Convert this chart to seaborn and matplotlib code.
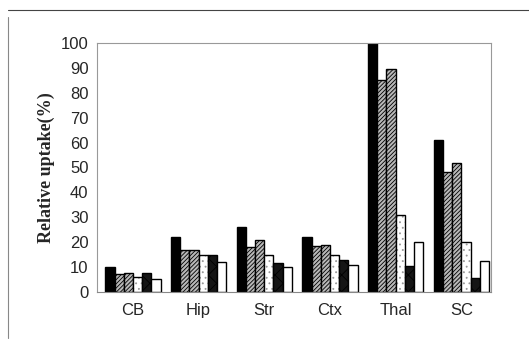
import pandas as pd
import matplotlib
matplotlib.use("Agg")
import matplotlib.pyplot as plt
import seaborn as sns

regions = ["CB", "Hip", "Str", "Ctx", "Thal", "SC"]
series = ["s1", "s2", "s3", "s4", "s5", "s6"]
s1 = [10, 22, 26, 22, 100, 61]
s2 = [7, 17, 18, 18.5, 85, 48]
s3 = [7.5, 17, 21, 19, 89.5, 52]
s4 = [6, 15, 15, 15, 31, 20]
s5 = [7.5, 15, 11.5, 13, 10.5, 5.5]
s6 = [5, 12, 10, 11, 20, 12.5]

rows = []
for name, vals in zip(series, [s1, s2, s3, s4, s5, s6]):
    for r, v in zip(regions, vals):
        rows.append({"region": r, "series": name, "value": v})
df = pd.DataFrame(rows)

sns.set_style("white")
plt.rcParams["hatch.color"] = "#3a3a3a"
plt.rcParams["hatch.linewidth"] = 0.6

fig = plt.figure(figsize=(5.29, 3.45), dpi=100)
ax = fig.add_axes([0.183, 0.154, 0.745, 0.721])

face = ["#000000", "#b8b8b8", "#b8b8b8", "#ffffff", "#151515", "#ffffff"]
hatches = [None, "////////", "////////", "...", "xx", None]

sns.barplot(data=df, x="region", y="value", hue="series", hue_order=series,
            palette=face, width=0.84, ax=ax, legend=False,
            edgecolor="black", linewidth=1.0)

for cont, h in zip(ax.containers, hatches):
    for bar in cont:
        if h:
            bar.set_hatch(h)
# dots on the light bars are faint in the scan
for bar in ax.containers[3]:
    bar._hatch_color = (0.6, 0.6, 0.6, 1.0)

ax.set_ylim(0, 100)
ax.set_yticks(range(0, 101, 10))
ax.set_xlim(-0.55, 5.45)
ax.set_xlabel("")
ax.set_ylabel("Relative uptake(%)", fontfamily="Liberation Serif",
              fontweight="bold", fontsize=13)
for lab in ax.get_xticklabels() + ax.get_yticklabels():
    lab.set_fontfamily("Liberation Sans")
    lab.set_fontsize(12)
ax.tick_params(axis="x", pad=8, length=0)
ax.tick_params(axis="y", pad=6, length=0)

for sp in ax.spines.values():
    sp.set_color("#999999")
    sp.set_linewidth(0.8)
ax.spines["bottom"].set_color("#888888")

# scanned page frame
fig.add_artist(plt.Line2D([0.015, 1.0], [0.97, 0.97], color="#444444", lw=0.8))
fig.add_artist(plt.Line2D([0.015, 0.015], [0.02, 0.95], color="#888888", lw=0.8))

fig.savefig("out.png", dpi=100)
